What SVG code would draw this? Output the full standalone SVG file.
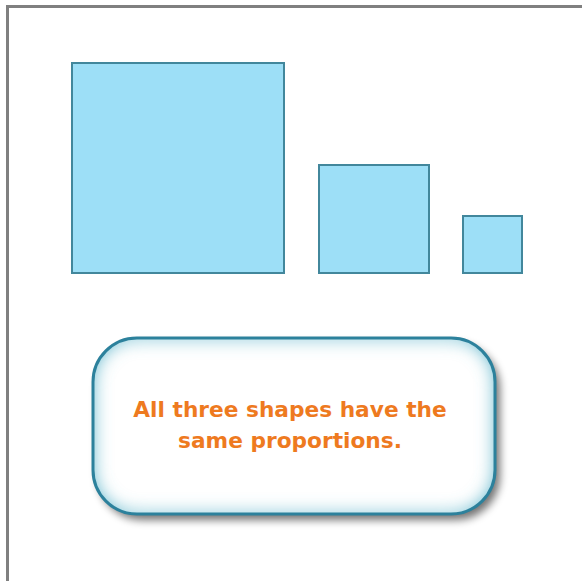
<svg xmlns="http://www.w3.org/2000/svg" width="582" height="581" viewBox="0 0 582 581">
<defs>
<style>
.sq{fill:#9ddff7;stroke:#42879c;stroke-width:2}
.lbl{font-family:"DejaVu Sans",Verdana,sans-serif;font-weight:bold;font-size:21.7px;fill:#ee7a1f;text-anchor:middle}
</style>
<filter id="shadow" x="-10%" y="-10%" width="130%" height="140%">
<feGaussianBlur in="SourceAlpha" stdDeviation="4"/>
<feOffset dx="5" dy="6" result="b"/>
<feComponentTransfer><feFuncA type="linear" slope="0.55"/></feComponentTransfer>
<feMerge><feMergeNode/><feMergeNode in="SourceGraphic"/></feMerge>
</filter>
<filter id="inner" x="-5%" y="-5%" width="110%" height="110%">
<feFlood flood-color="#5fb5cb"/>
<feComposite in2="SourceAlpha" operator="out"/>
<feGaussianBlur stdDeviation="9"/>
<feComposite in2="SourceAlpha" operator="in"/>
</filter>
</defs>
<rect width="582" height="581" fill="#ffffff"/>
<path d="M7.5 581 V6.5 H582" fill="none" stroke="#808080" stroke-width="3"/>
<g id="large"><rect class="sq" x="72" y="63" width="212" height="210"/></g>
<g id="medium"><rect class="sq" x="319" y="165" width="110" height="108"/></g>
<g id="small"><rect class="sq" x="463" y="216" width="59" height="57"/></g>
<g id="callout">
<g filter="url(#shadow)">
<rect x="93" y="338" width="402" height="176" rx="44" fill="#ffffff"/>
</g>
<rect x="93" y="338" width="402" height="176" rx="44" fill="#ffffff" filter="url(#inner)"/>
<rect x="93" y="338" width="402" height="176" rx="44" fill="none" stroke="#2c819c" stroke-width="3"/>
<text class="lbl" x="290" y="417">All three shapes have the</text>
<text class="lbl" x="290" y="448">same proportions.</text>
</g>
</svg>
